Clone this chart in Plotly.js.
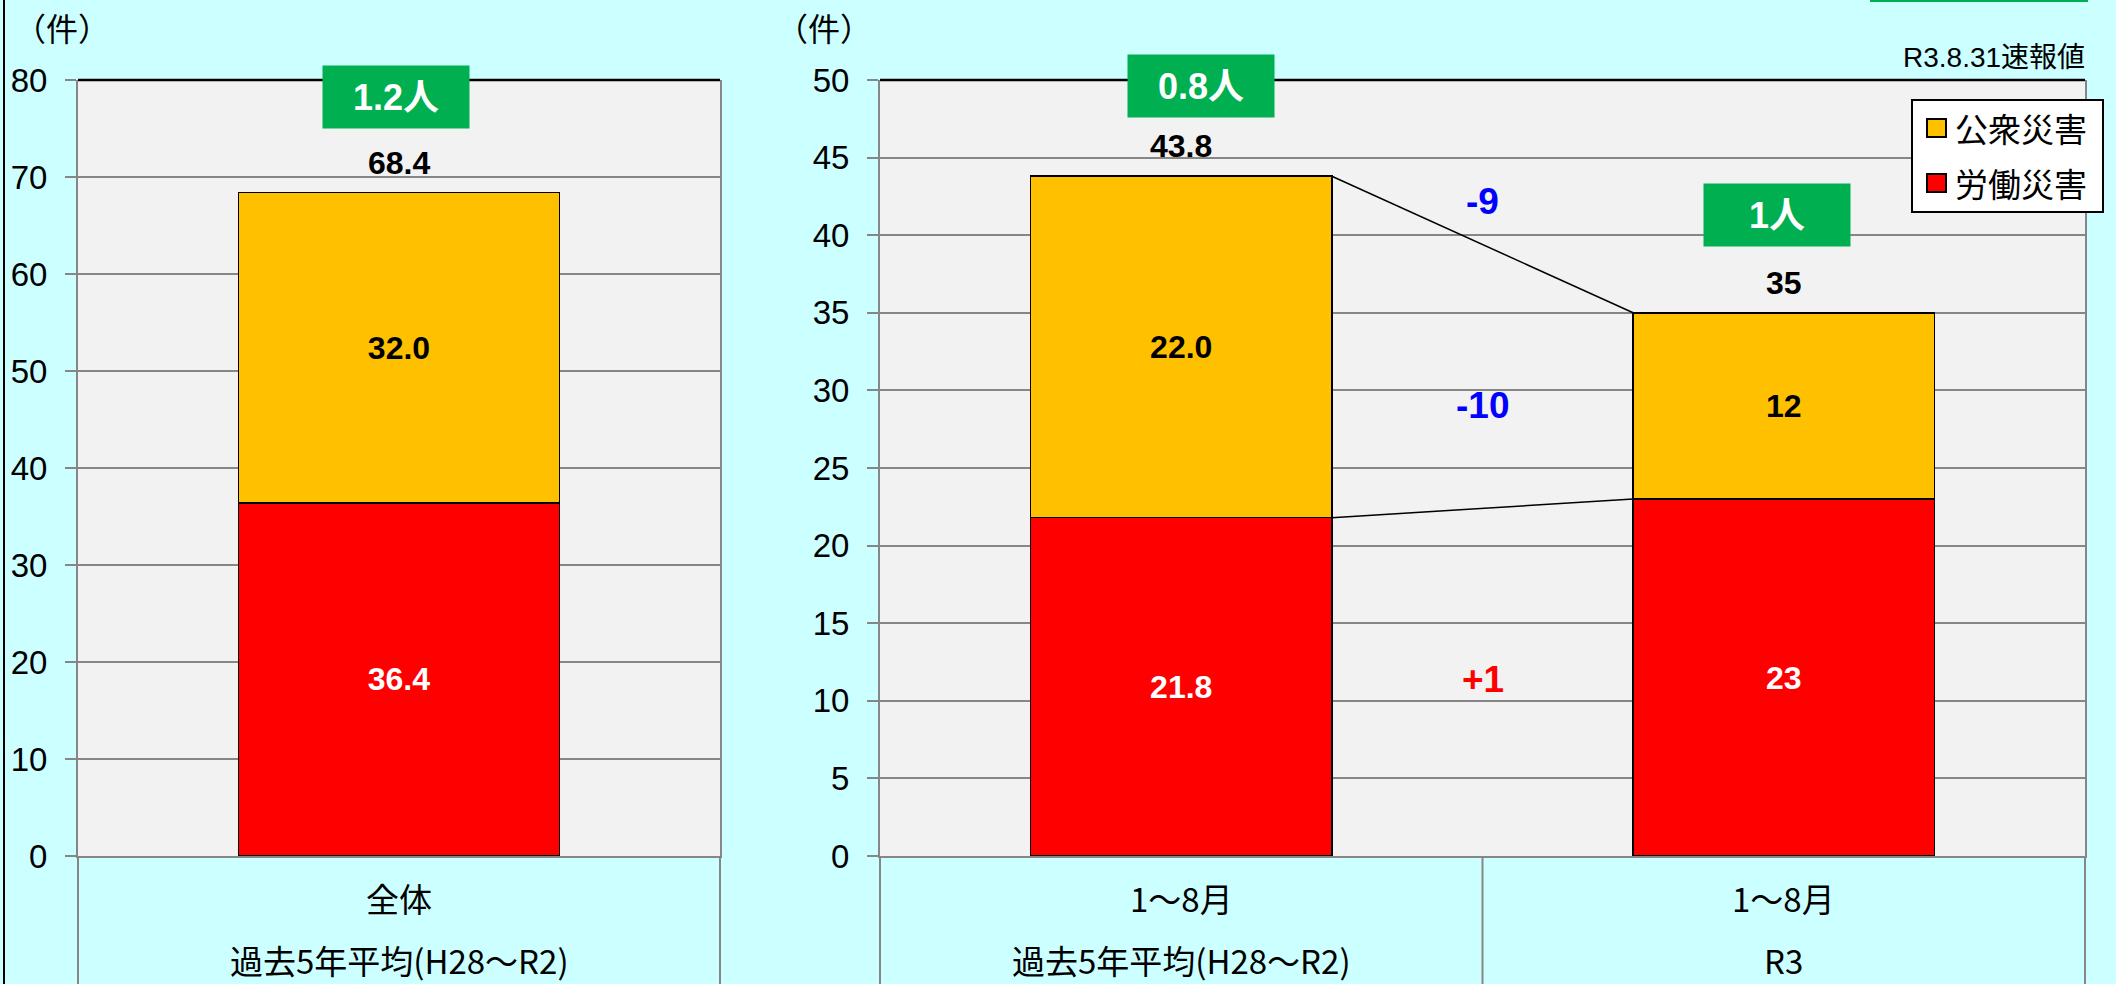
<!DOCTYPE html>
<html>
<head>
<meta charset="utf-8">
<script src="https://cdn.plot.ly/plotly-3.0.1.min.js"></script>
<style>html,body{margin:0;padding:0;background:#CCFFFF;}</style>
</head>
<body>
<div id="chart" style="width:2116px;height:984px;"></div>
<script>
// 災害件数（件）：過去5年平均とR3（1～8月）
const periodLabels = ["全体", "1～8月", "1～8月"];
const baseLabels = ["過去5年平均(H28～R2)", "過去5年平均(H28～R2)", "R3"];
const laborAccidents = [36.4, 21.8, 23];    // 労働災害
const publicAccidents = [32.0, 22.0, 12];   // 公衆災害
const deaths = [1.2, 0.8, 1];               // 死亡者（人）
const valueDecimals = [1, 1, 0];
const seriesNames = { labor: "労働災害", pub: "公衆災害" };
const noteText = "R3.8.31速報値";
const unitText = "（件）";
const yTicksLeft = [0, 10, 20, 30, 40, 50, 60, 70, 80];
const yTicksRight = [0, 5, 10, 15, 20, 25, 30, 35, 40, 45, 50];

const W = 2116, H = 984;
const px = v => v / W;
const py = v => 1 - v / H;

const LAT = "Liberation Sans, Arial, Noto Sans CJK JP, sans-serif";
const JP = "Noto Sans CJK JP, sans-serif";
const RED = "#FF0000", ORANGE = "#FFC000", GREEN = "#00B050", GRID = "#868686";

// 左：全体、右：1～8月の比較
const panels = [
  { xa: "x", ya: "y", idx: [0], ticks: yTicksLeft, domain: [px(78), px(720)] },
  { xa: "x2", ya: "y2", idx: [1, 2], ticks: yTicksRight, domain: [px(880), px(2085)] }
];

const fmt = (v, i) => v.toFixed(valueDecimals[i]);

const traces = [];
panels.forEach(p => {
  const xs = p.idx.map(i => baseLabels[i]);
  traces.push({
    type: "bar", name: seriesNames.labor, xaxis: p.xa, yaxis: p.ya,
    x: xs, y: p.idx.map(i => laborAccidents[i]),
    text: p.idx.map(i => fmt(laborAccidents[i], i)),
    textposition: "inside", insidetextanchor: "middle", textangle: 0,
    constraintext: "none",
    textfont: { family: LAT, size: 32, color: "#FFFFFF", weight: "bold" },
    marker: { color: RED, line: { color: "#000000", width: 1.5 } },
    showlegend: false, hoverinfo: "skip"
  });
  traces.push({
    type: "bar", name: seriesNames.pub, xaxis: p.xa, yaxis: p.ya,
    x: xs, y: p.idx.map(i => publicAccidents[i]),
    text: p.idx.map(i => fmt(publicAccidents[i], i)),
    textposition: "inside", insidetextanchor: "middle", textangle: 0,
    constraintext: "none",
    textfont: { family: LAT, size: 32, color: "#000000", weight: "bold" },
    marker: { color: ORANGE, line: { color: "#000000", width: 1.5 } },
    showlegend: false, hoverinfo: "skip"
  });
});

const totals = laborAccidents.map((v, i) => v + publicAccidents[i]);

const annotations = [];
const shapes = [];

// 死亡者ラベルの位置（棒の上端からのずれ、px）
const deathBoxShift = [[-3, 96], [20, 90], [-7, 98]];

panels.forEach(p => {
  p.idx.forEach((i, k) => {
    // 合計値
    annotations.push({
      xref: p.xa, yref: p.ya, x: k, y: totals[i], yshift: 30,
      yanchor: "middle", xanchor: "center", showarrow: false,
      text: fmt(totals[i], i),
      font: { family: LAT, size: 32, color: "#000000", weight: "bold" }
    });
    // 死亡者数
    annotations.push({
      xref: p.xa, yref: p.ya, x: k, y: totals[i],
      xshift: deathBoxShift[i][0], yshift: deathBoxShift[i][1],
      yanchor: "middle", xanchor: "center", showarrow: false,
      text: deaths[i] + "人", bgcolor: GREEN, width: 146, height: 62,
      borderpad: 0, align: "center", valign: "middle",
      font: { family: LAT, size: 36, color: "#FFFFFF", weight: "bold" }
    });
    // 項目ラベル（2段）
    annotations.push({
      xref: p.xa, yref: "paper", x: k, y: py(898), yanchor: "middle",
      showarrow: false, text: periodLabels[i],
      font: { family: JP, size: 33, color: "#000000" }
    });
    annotations.push({
      xref: p.xa, yref: "paper", x: k, y: py(960), yanchor: "middle",
      showarrow: false, text: baseLabels[i],
      font: { family: JP, size: 33, color: "#000000" }
    });
  });

  // 枠上辺（黒）
  shapes.push({
    type: "line", xref: p.xa + " domain", yref: p.ya + " domain",
    x0: 0, x1: 1, y0: 1, y1: 1, line: { color: "#000000", width: 2.5 }
  });
  // 項目欄の縦罫線
  [0, 1].forEach(xd => shapes.push({
    type: "line", xref: p.xa + " domain", yref: "paper",
    x0: xd, x1: xd, y0: 0, y1: py(856), line: { color: GRID, width: 2 }
  }));
});
shapes.push({
  type: "line", xref: "x2", yref: "paper", x0: 0.5, x1: 0.5,
  y0: 0, y1: py(856), line: { color: GRID, width: 2 }
});

// 増減を結ぶ線（棒の右端→左端）
const half = 0.25;
[[totals[1], totals[2]], [laborAccidents[1], laborAccidents[2]]].forEach(([a, b]) => {
  shapes.push({
    type: "line", xref: "x2", yref: "y2", x0: half, x1: 1 - half, y0: a, y1: b,
    line: { color: "#000000", width: 1.5 }
  });
});

// 増減値
const diffs = [
  { d: totals[2] - totals[1], y: 42.15 },
  { d: publicAccidents[2] - publicAccidents[1], y: 29.0 },
  { d: laborAccidents[2] - laborAccidents[1], y: 11.4 }
];
diffs.forEach(o => {
  const r = Math.round(o.d);
  annotations.push({
    xref: "x2", yref: "y2", x: 0.5, y: o.y, showarrow: false,
    xanchor: "center", yanchor: "middle",
    text: (r > 0 ? "+" : "") + r,
    font: { family: LAT, size: 37, color: r < 0 ? "#0000FF" : "#FF0000", weight: "bold" }
  });
});

// 単位・注記
[12, 774].forEach(x => annotations.push({
  xref: "paper", yref: "paper", x: px(x), y: py(27), xanchor: "left", yanchor: "middle",
  showarrow: false, text: unitText, font: { family: JP, size: 32, color: "#000000" }
}));
annotations.push({
  xref: "paper", yref: "paper", x: px(2087), y: py(57), xanchor: "right", yanchor: "middle",
  showarrow: false, text: noteText,
  font: { family: "Liberation Sans, Noto Sans CJK JP, sans-serif", size: 28, color: "#000000" }
});

// 凡例
shapes.push({
  type: "rect", xref: "paper", yref: "paper",
  x0: px(1912), x1: px(2103), y0: py(212), y1: py(100),
  fillcolor: "#FFFFFF", line: { color: "#000000", width: 2 }
});
[[seriesNames.pub, ORANGE, 128], [seriesNames.labor, RED, 183]].forEach(([name, col, cy]) => {
  shapes.push({
    type: "rect", xref: "paper", yref: "paper",
    x0: px(1927), x1: px(1946), y0: py(cy + 9), y1: py(cy - 9),
    fillcolor: col, line: { color: "#000000", width: 2 }
  });
  annotations.push({
    xref: "paper", yref: "paper", x: px(1953), y: py(cy), xanchor: "left", yanchor: "middle",
    showarrow: false, text: name, font: { family: JP, size: 33, color: "#000000" }
  });
});

// 上端の緑枠・左端の罫線
shapes.push({
  type: "rect", xref: "paper", yref: "paper",
  x0: px(1870), x1: px(2088), y0: py(2), y1: 1,
  fillcolor: GREEN, line: { width: 0 }
});
shapes.push({
  type: "line", xref: "paper", yref: "paper",
  x0: px(4), x1: px(4), y0: 0, y1: 1, line: { color: "#000000", width: 2 }
});

const yDomain = [py(856), py(80)];
function yAxis(p) {
  return {
    domain: yDomain, anchor: p.xa,
    range: [p.ticks[0], p.ticks[p.ticks.length - 1]],
    tickvals: p.ticks, ticktext: p.ticks.map(String),
    showgrid: true, gridcolor: GRID, gridwidth: 2,
    showline: true, linecolor: GRID, linewidth: 2, mirror: true,
    ticks: "outside", ticklen: 11, tickwidth: 2, tickcolor: GRID,
    ticklabelstandoff: 11,
    tickfont: { family: LAT, size: 33, color: "#000000" },
    zeroline: false, fixedrange: true
  };
}
function xAxis(p) {
  return {
    domain: p.domain, anchor: p.ya, type: "category",
    range: [-0.5, p.idx.length - 0.5],
    showticklabels: false, ticks: "", showgrid: false,
    showline: true, linecolor: GRID, linewidth: 2,
    zeroline: false, fixedrange: true
  };
}

const layout = {
  width: W, height: H,
  margin: { l: 0, r: 0, t: 0, b: 0 },
  paper_bgcolor: "#CCFFFF", plot_bgcolor: "#F2F2F2",
  barmode: "stack", bargap: 0.5,
  showlegend: false,
  xaxis: xAxis(panels[0]), yaxis: yAxis(panels[0]),
  xaxis2: xAxis(panels[1]), yaxis2: yAxis(panels[1]),
  annotations: annotations, shapes: shapes
};

Plotly.newPlot("chart", traces, layout, { displayModeBar: false, staticPlot: true });
</script>
</body>
</html>
